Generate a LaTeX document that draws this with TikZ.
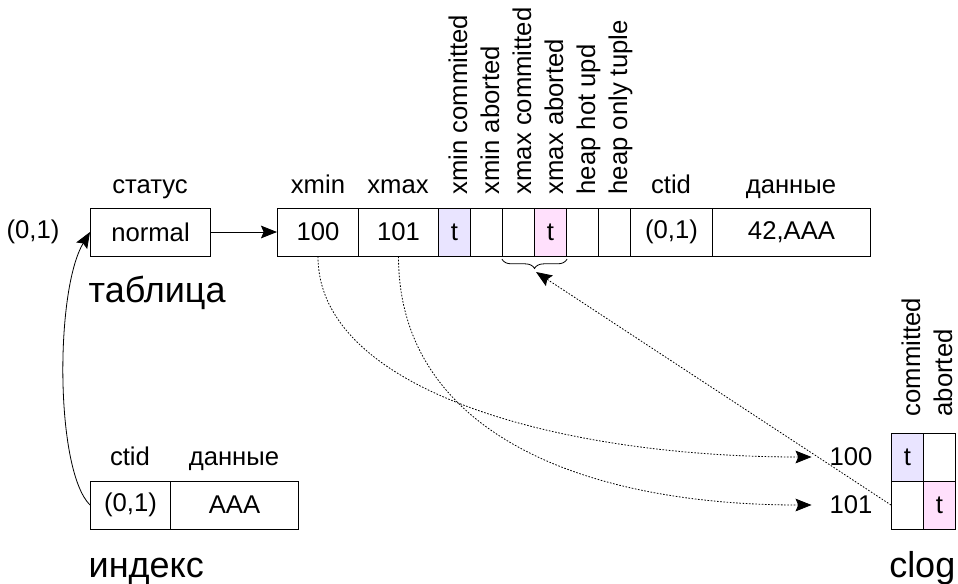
\documentclass[tikz,border=0pt]{standalone}
\usepackage{fontspec}
\setmainfont{Liberation Sans}
\usetikzlibrary{arrows.meta,decorations.pathreplacing,positioning}
\definecolor{r233g228b255}{RGB}{233,228,255}
\definecolor{r255g224b252}{RGB}{255,224,252}
\tikzset{
	cell/.style={draw, line width=0.75pt, minimum height=36pt, inner sep=0pt, anchor=west},
	flag/.style={cell, minimum width=24pt},
	vlabel/.style={rotate=90, anchor=base west, inner sep=1pt},
	head/.style={anchor=base},
	ptr/.style={-{Stealth[length=12pt,width=9.5pt,inset=2pt]}, line width=0.6pt},
	dptr/.style={ptr, dash pattern=on 1.2pt off 1.2pt},
	bigtext/.style={font=\fontsize{27}{31}\selectfont}
}

\begin{document}
\begin{tikzpicture}[x=0.75pt, y=-0.75pt, font=\fontsize{19.25}{23}\selectfont]
                    \useasboundingbox (0,0) rectangle (958,583);
                    
                    % Marking status of the tuple
                    \node[cell, minimum width=90pt] (status) at (90,232) {normal};
                    \node[head] (lstatus) at (150,193) {статус};
                    \node (ltid) at (33,232) {(0,1)};
                    \node[bigtext, anchor=base west] (ltable) at (84,302) {таблица};
                    
                    % Drawing tuple header and data
                    \node[cell, minimum width=60.75pt] (txmin) at (277,232) {100};
                    \node[cell, minimum width=60pt] (txmax) at (358,232) {101};
                    \node[flag, fill=r233g228b255] (fxminc) at (438,232) {t};
                    \node[flag] (fxmina) at (470,232) {};
                    \node[flag] (fxmaxc) at (502,232) {};
                    \node[flag, fill=r255g224b252] (fxmaxa) at (534,232) {t};
                    \node[flag] (fhot) at (566,232) {};
                    \node[flag] (fonly) at (598,232) {};
                    \node[cell, minimum width=61.5pt] (tctid) at (630,232) {(0,1)};
                    \node[cell, minimum width=118.5pt] (tdata) at (712,232) {42,AAA};
                    
                    % Marking tuple fields
                    \node[head] (lxmin) at (318,193) {xmin};
                    \node[head] (lxmax) at (398,193) {xmax};
                    \node[head] (lctid) at (671,193) {ctid};
                    \node[head] (ldata) at (791,193) {данные};
                    
                    % Marking infomask bits
                    \node[vlabel] (lxminc) at (467,196) {xmin committed};
                    \node[vlabel] (lxmina) at (499,196) {xmin aborted};
                    \node[vlabel] (lxmaxc) at (531,196) {xmax committed};
                    \node[vlabel] (lxmaxa) at (563,196) {xmax aborted};
                    \node[vlabel] (lhot) at (595,196) {heap hot upd};
                    \node[vlabel] (lonly) at (627,196) {heap only tuple};
                    
                    % Drawing brace under xmax bits
                    \draw[decorate, decoration={brace, mirror, amplitude=7pt, raise=2pt}, line width=0.6pt] (fxmaxc.south west) -- (fxmaxa.south east);
                    \coordinate (bracetip) at (536,272);
                    
                    % Drawing index entry
                    \node[cell, minimum width=60pt] (ictid) at (90,505) {(0,1)};
                    \node[cell, minimum width=96pt] (idata) at (170,505) {AAA};
                    \node[head] (lictid) at (130,465) {ctid};
                    \node[head] (lidata) at (234,465) {данные};
                    \node[bigtext, anchor=base west] (lindex) at (84,577) {индекс};
                    
                    % Drawing clog
                    \node[flag, fill=r233g228b255] (cc100) at (891,457) {t};
                    \node[flag] (ca100) at (923,457) {};
                    \node[flag] (cc101) at (891,505) {};
                    \node[flag, fill=r255g224b252] (ca101) at (923,505) {t};
                    \node[vlabel] (lcommit) at (920,418) {committed};
                    \node[vlabel] (labort) at (952,418) {aborted};
                    \node (l100) at (851,457) {100};
                    \node (l101) at (851,505) {101};
                    \node[bigtext, anchor=base east] (lclog) at (960,577) {clog};
                    
                    % Drawing pointers
                    \draw[ptr] (status) -- (txmin);
                    \draw[ptr] (ictid.west) .. controls +(-35,-35) and +(-35,58) .. (status.west);
                    \draw[dptr] (txmin.south) .. controls +(0,134) and +(-252,0) .. ([xshift=-10pt]l100.west);
                    \draw[dptr] (txmax.south) .. controls +(0,174) and +(-232,0) .. ([xshift=-10pt]l101.west);
                    \draw[dptr] (cc101.west) -- (bracetip);
\end{tikzpicture}
\end{document}
